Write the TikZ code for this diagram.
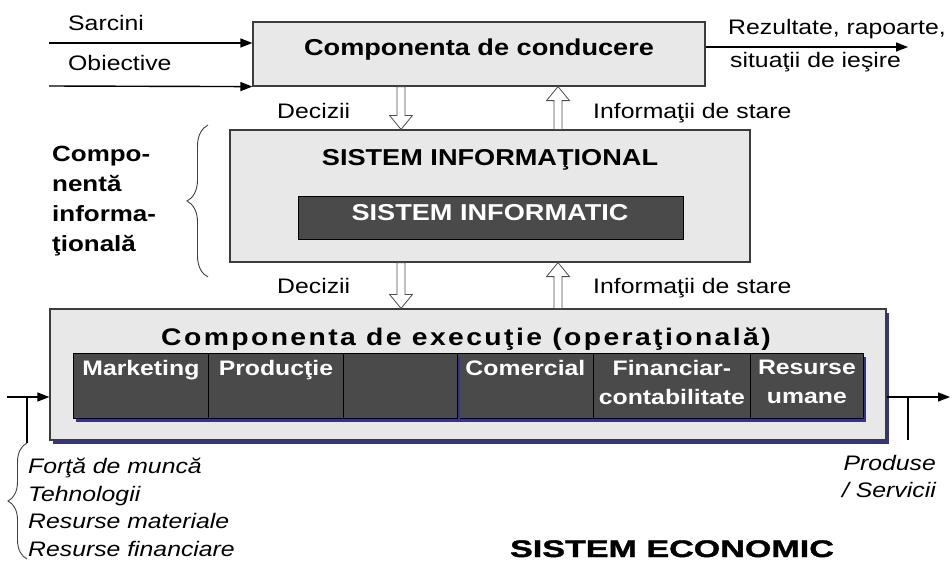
\documentclass[tikz,border=0pt]{standalone}
\usepackage{fontspec}
\setmainfont{Liberation Sans}[FakeStretch=1.18]
\newfontfamily\spacedfont{Liberation Sans}[FakeStretch=1.18,LetterSpace=10]
\newfontfamily\widefont{Liberation Sans}[FakeStretch=1.42,FakeBold=1.5]
\usetikzlibrary{calc,shadows,decorations.pathreplacing,arrows.meta}

\definecolor{panelgray}{HTML}{E8E8E8}
\definecolor{framegray}{HTML}{3C3C3C}
\definecolor{cellgray}{HTML}{4A4A4A}
\definecolor{shadownavy}{HTML}{34348A}

\tikzstyle{panel} = [rectangle, draw=framegray, fill=panelgray, line width=1.2pt, inner sep=0pt]
\tikzstyle{navyshadow} = [drop shadow={shadow xshift=3pt, shadow yshift=-4pt, fill=shadownavy, opacity=1}]
\tikzstyle{cell} = [rectangle, draw=black, fill=cellgray, line width=0.8pt, inner sep=0pt, navyshadow]
\tikzstyle{celltext} = [anchor=north, inner sep=7pt, text=white, align=center, font=\fontsize{21}{29}\selectfont\bfseries]
\tikzstyle{tag} = [inner sep=0pt, font=\fontsize{21}{28}\selectfont]
\tikzstyle{heading} = [inner sep=0pt, anchor=base, font=\fontsize{23}{28}\selectfont\bfseries]
\tikzstyle{connector} = [line width=1.4pt, -{Triangle[length=12pt,width=9pt]}]
\tikzstyle{wire} = [line width=1.3pt]
\tikzstyle{hollow} = [draw=black!70, fill=white, line width=0.8pt]
\tikzstyle{curly} = [line width=0.9pt, draw=black!75, decorate, decoration={brace, amplitude=#1, aspect=0.5}]

% hollow block arrow from #1 to #2 (vertical)
\newcommand{\flowarrow}[2]{%
  \draw[hollow] let \p1=(#1), \p2=(#2), \p3=($(#2)!14pt!(#1)$) in
    (\x1-4pt,\y1) -- (\x1-4pt,\y3) -- (\x1-11.5pt,\y3) -- (\x2,\y2)
    -- (\x1+11.5pt,\y3) -- (\x1+4pt,\y3) -- (\x1+4pt,\y1) -- cycle;}

\begin{document}
\begin{tikzpicture}[x=1pt,y=-1pt]
    \useasboundingbox (0,0) rectangle (952,563);

    \node[panel, minimum width=452, minimum height=64] (conducere) at (479,54) {};
    \node[heading] (conducere-title) at (479,55) {Componenta de conducere};

    \node[panel, minimum width=520, minimum height=132] (info) at (490,196) {};
    \node[heading] (info-title) at (490,165) {SISTEM INFORMAŢIONAL};
    \node[rectangle, draw=black, fill=cellgray, line width=0.8pt, minimum width=385, minimum height=43] (informatic) at (490.5,217.5) {};
    \node[heading, text=white] (informatic-title) at (490,220) {SISTEM INFORMATIC};

    \node[panel, navyshadow, minimum width=836, minimum height=131] (executie) at (468,374.5) {};
    \node[inner sep=0pt, anchor=base, font=\fontsize{24}{28}\spacedfont\bfseries] (executie-title) at (466,345) {Componenta de execuţie (operaţională)};

    \foreach \name/\left/\right/\txt in {mkt/73/208/Marketing, prod/208/343/Producţie, com/457/593/Comercial, fin/593/750/{Financiar-\\contabilitate}, rum/750/863/{Resurse\\umane}, gol/343/457/{}} {
        \node[cell, anchor=north west, minimum width={\right-\left}, minimum height=65] (\name) at (\left,353) {};
        \node[celltext] (\name-text) at (\name.north) {\txt};
    }

    % inputs and outputs of the management box
    \node[tag, anchor=base west] (sarcini) at (68,30) {Sarcini};
    \node[tag, anchor=base west] (obiective) at (68,70) {Obiective};
    \coordinate (in1) at (49,43);
    \coordinate (in2) at (49,86);
    \draw[connector] (in1) -- (in1 -| conducere.west);
    \draw[connector] (in2) -- (conducere.south west);
    \coordinate (out1) at (908,47);
    \draw[connector] (conducere.east |- out1) -- (out1);
    \node[tag, anchor=base west] (rezultate) at (728,34) {Rezultate, rapoarte,};
    \node[tag, anchor=base west] (situatii) at (730,67) {situaţii de ieşire};

    % decisions down, status up
    \coordinate (downcol) at (401,0);
    \coordinate (upcol) at (558,0);
    \flowarrow{conducere.south -| downcol}{info.north -| downcol}
    \flowarrow{info.north -| upcol}{conducere.south -| upcol}
    \flowarrow{info.south -| downcol}{executie.north -| downcol}
    \flowarrow{executie.north -| upcol}{info.south -| upcol}
    \node[tag, anchor=base west] (decizii1) at (277,118) {Decizii};
    \node[tag, anchor=base west] (stare1) at (593,118) {Informaţii de stare};
    \node[tag, anchor=base west] (decizii2) at (277,293) {Decizii};
    \node[tag, anchor=base west] (stare2) at (593,293) {Informaţii de stare};

    \coordinate (brace-top) at (208,125);
    \coordinate (brace-bot) at (208,277);
    \draw[curly=21] (brace-bot) -- (brace-top);
    \node[tag, align=left, anchor=north west, font=\fontsize{22}{30}\selectfont\bfseries] (compinfo) at (52,146) {Compo-\\nentă\\informa-\\ţională};

    % resources in
    \coordinate (resin) at (7,397);
    \coordinate (resknee) at (27,397);
    \coordinate (resfoot) at (27,443);
    \coordinate (resend) at (27,559);
    \draw[connector] (resin) -- (resin -| executie.west);
    \draw[wire] (resknee) -- (resfoot);
    \draw[curly=19] (resend) -- (resfoot);
    \node[tag, align=left, anchor=north west, font=\fontsize{21}{27.5}\selectfont\itshape] (resurse) at (28,458) {Forţă de muncă\\Tehnologii\\Resurse materiale\\Resurse financiare};

    % products out
    \coordinate (prodout) at (950,397);
    \coordinate (prodknee) at (908,397);
    \coordinate (prodfoot) at (908,440);
    \draw[connector] (executie.east |- prodout) -- (prodout);
    \draw[wire] (prodknee) -- (prodfoot);
    \node[tag, align=right, anchor=north east, font=\fontsize{21}{27}\selectfont\itshape] (produse) at (936,455) {Produse\\/ Servicii};

    \node[inner sep=0pt, anchor=base, font=\fontsize{24}{28}\widefont\bfseries] (economic) at (672,557) {SISTEM ECONOMIC};
\end{tikzpicture}
\end{document}
